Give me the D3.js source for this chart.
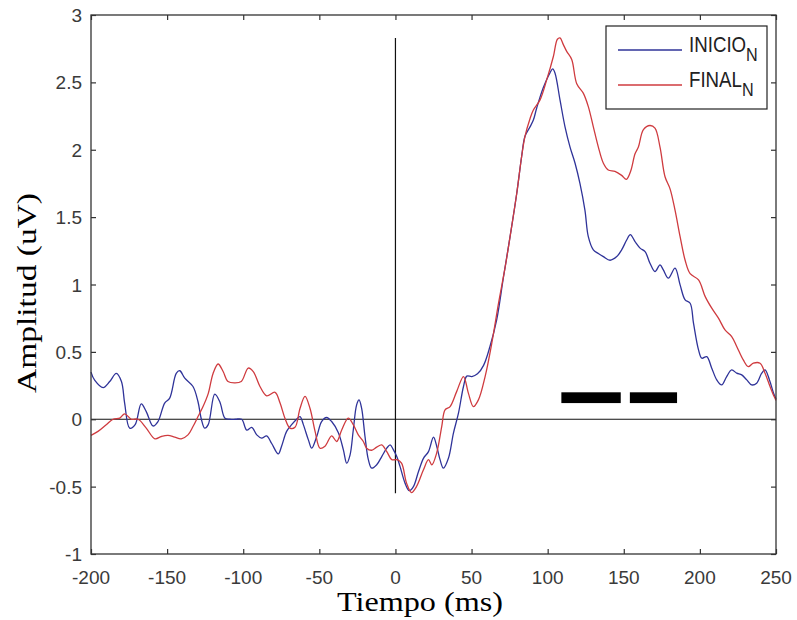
<!DOCTYPE html>
<html>
<head>
    <meta charset="utf-8">
    <script src="https://d3js.org/d3.v7.min.js"></script>
    <style>
        body {
            margin: 0;
            background: #fff;
        }

        .tick-label {
            font-family: "Liberation Sans", Arial, sans-serif;
            font-size: 19px;
            fill: #3a3a3a;
        }

        .axis-title {
            font-family: "Liberation Serif", "Times New Roman", serif;
            font-size: 28px;
            fill: #000;
        }

        .legend-text {
            font-family: "Liberation Sans", Arial, sans-serif;
            font-size: 22px;
            fill: #222;
        }
    </style>
</head>
<body>
    <script>
        // tiempo (ms) / amplitud (uV)
        const inicioT = [-200, -197.6, -192, -187.7, -183.4, -180, -177.9, -174.6, -171, -167, -163.7, -159.3, -156,
            -151.6, -148.3, -144, -141.7, -138.4, -133, -129.7, -127.5, -125.3, -123, -118.7, -115.4, -112, -108.9,
            -105, -101, -97.7, -94.4, -91.1, -87.9, -84.6, -81.3, -77, -74.8, -71.5, -68.2, -64.9, -62.7, -60.5,
            -57.2, -55, -51.7, -48.5, -45.2, -41.9, -37.5, -34.2, -32, -29.8, -27.7, -25.5, -23.9, -22.2, -20,
            -17.8, -15.6, -12.3, -9, -5.7, -3.5, -1.3, 1, 3, 6.3, 9.1, 11.8, 15.1, 18.4, 21.7, 25, 27.1, 29.3,
            31.5, 34.8, 38.1, 41.4, 44.7, 46.9, 50.2, 53.9, 57.9, 62.1, 66.5, 70.9, 75.3, 79.7, 82.9, 85.1, 88.4,
            90.6, 92.8, 97.1, 101.5, 103.3, 104.8, 108.1, 111.4, 114.7, 118, 121.2, 124.5, 126.7, 130, 133.3,
            136.6, 141, 145.4, 148.6, 151.9, 154.3, 157.4, 160.7, 164, 167.2, 170.5, 173.8, 176, 179.3, 183.7,
            187, 190.3, 193.6, 195.8, 199.1, 201.3, 204.5, 207.8, 211.1, 214.3, 217.6, 220.9, 224.2, 227.5,
            230.8, 234, 237.3, 240.6, 242.8, 245.7, 248.4, 250];
        const inicioV = [0.35, 0.29, 0.235, 0.28, 0.34, 0.28, 0.12, -0.066, -0.04, 0.114, 0.057, -0.05, -0.017,
            0.12, 0.157, 0.34, 0.36, 0.305, 0.243, 0.13, 0, -0.066, -0.04, 0.186, 0.13, 0.008, 0,
            0, 0, -0.08, -0.06, -0.116, -0.14, -0.123, -0.18, -0.257, -0.2, -0.09, -0.04, 0, 0.02, -0.04,
            -0.153, -0.215, -0.128, -0.017, 0.013, -0.017, -0.1, -0.227, -0.326, -0.264, -0.08, 0.107, 0.144, 0.08, -0.128,
            -0.3, -0.363, -0.338, -0.277, -0.215, -0.19, -0.227, -0.28, -0.35, -0.474, -0.53, -0.5, -0.39, -0.29, -0.24, -0.133, -0.2, -0.3,
            -0.363, -0.29, -0.103, 0.045, 0.243, 0.32, 0.317, 0.337, 0.4, 0.54, 0.737, 1.05, 1.355, 1.677, 1.95, 2.1, 2.17,
            2.22, 2.31, 2.46, 2.57, 2.6, 2.57, 2.37, 2.17, 2.02, 1.9, 1.75, 1.55, 1.355, 1.257, 1.23,
            1.207, 1.18, 1.207, 1.257, 1.33, 1.37, 1.318, 1.27, 1.244, 1.158, 1.096, 1.145, 1.108, 1.047, 1.121,
            0.997, 0.886, 0.861, 0.713, 0.515, 0.453, 0.465, 0.379, 0.292, 0.255, 0.317, 0.366, 0.342, 0.329,
            0.292, 0.255, 0.268, 0.342, 0.366, 0.292, 0.194, 0.15];

        const finalT = [-200, -195.4, -190, -185.5, -181.1, -177.9, -173.5, -169, -163.7, -158, -153.8, -149.4, -145,
            -140.7, -136.3, -133, -129.7, -126.4, -123, -119.8, -116.5, -113.2, -110, -105.6, -101.3, -96.7, -93.4,
            -89, -84.6, -79.1, -75.8, -72.6, -69.3, -66, -62.7, -59.4, -56.1, -52.8, -49.5, -46.3, -41.9, -38.6,
            -35.3, -31, -27.7, -24.4, -21.1, -18.9, -15.6, -12.3, -9, -5.7, -2.4, 1, 4, 7.3, 10.5, 13.8, 18.4,
            21.7, 23.9, 27.1, 30.4, 32.6, 35.9, 40.2, 44.7, 47.9, 51.2, 54.5, 58.9, 63.3, 67.7, 72.1, 75.3, 79.7,
            82.9, 85.1, 88.4, 90.6, 95, 99.4, 103.7, 106.4, 108.1, 110.3, 112.5, 115.8, 119.1, 123.4, 126.7, 130,
            133.3, 136.6, 139.8, 144.2, 148.6, 151.7, 154.5, 157.4, 159.6, 162.9, 167.2, 170.5, 173.8, 177.1,
            180.4, 183.7, 187, 190.3, 193.6, 199.1, 203.5, 207.8, 212.2, 216.5, 220.9, 224.2, 228.5, 231.8,
            235.1, 239.5, 242.8, 246.1, 248.7, 250];
        const finalV = [-0.12, -0.09, -0.04, 0, 0.008, 0.04, 0, 0, -0.066, -0.145, -0.128, -0.12, -0.133,
            -0.145, -0.116, -0.054, 0.02, 0.094, 0.19, 0.34, 0.41, 0.354, 0.28, 0.27, 0.28, 0.38, 0.354,
            0.243, 0.174, 0.2, 0.12, 0.008, -0.066, -0.06, 0.08, 0.17, 0.08, -0.09, -0.215, -0.2, -0.123, -0.165,
            -0.08, 0.008, -0.04, -0.116, -0.165, -0.215, -0.23, -0.207, -0.19, -0.24, -0.3, -0.3, -0.326, -0.474, -0.544, -0.5, -0.375,
            -0.3, -0.338, -0.25, -0.054, 0.07, 0.094, 0.205, 0.317, 0.194, 0.094, 0.144, 0.317, 0.565, 0.86, 1.13, 1.355, 1.677,
            1.95, 2.1, 2.23, 2.295, 2.37, 2.52, 2.69, 2.82, 2.83, 2.78, 2.73, 2.67, 2.49, 2.42, 2.32, 2.17,
            2.02, 1.9, 1.85, 1.84, 1.81, 1.78, 1.84, 1.97, 2.02, 2.15, 2.18, 2.16, 2.02, 1.8,
            1.71, 1.55, 1.355, 1.18, 1.08, 1.034, 0.91, 0.824, 0.75, 0.663, 0.614, 0.54, 0.44, 0.39,
            0.416, 0.416, 0.342, 0.243, 0.17, 0.14];

        const xTicks = [-200, -150, -100, -50, 0, 50, 100, 150, 200, 250];
        const yTicks = [-1, -0.5, 0, 0.5, 1, 1.5, 2, 2.5, 3];

        // significance windows (ms) and the band they sit in (uV)
        const sigWindows = [[109, 148], [154, 185]];
        const sigBand = [0.12, 0.2];

        // stimulus marker at t = 0
        const onsetRange = [-0.55, 2.83];

        const series = [
            { name: "INICIO", t: inicioT, v: inicioV, color: "#2f3399" },
            { name: "FINAL", t: finalT, v: finalV, color: "#cf3b3f" }
        ];

        const width = 797, height = 620;
        const margin = { top: 15, right: 21, bottom: 66, left: 91 };
        const squeeze = 0.85; // legend uses a narrow sans face

        const svg = d3.select("body").append("svg")
            .attr("width", width)
            .attr("height", height);

        const x = d3.scaleLinear().domain([-200, 250]).range([margin.left, width - margin.right]);
        const y = d3.scaleLinear().domain([-1, 3]).range([height - margin.bottom, margin.top]);

        // reference lines
        svg.append("line")
            .attr("x1", x(-200)).attr("x2", x(250))
            .attr("y1", y(0)).attr("y2", y(0))
            .attr("stroke", "#111").attr("stroke-width", 1.2);

        svg.append("line")
            .attr("x1", x(0)).attr("x2", x(0))
            .attr("y1", y(onsetRange[0])).attr("y2", y(onsetRange[1]))
            .attr("stroke", "#111").attr("stroke-width", 1.2);

        // curves
        const line = d3.line()
            .x(d => x(d[0]))
            .y(d => y(d[1]))
            .curve(d3.curveCatmullRom.alpha(0.5));

        svg.append("g")
            .selectAll("path")
            .data(series)
            .enter().append("path")
            .attr("d", s => line(d3.zip(s.t, s.v)))
            .attr("fill", "none")
            .attr("stroke", s => s.color)
            .attr("stroke-width", 1.3)
            .attr("stroke-linejoin", "round");

        // black bars
        svg.append("g")
            .selectAll("rect")
            .data(sigWindows)
            .enter().append("rect")
            .attr("x", d => x(d[0]))
            .attr("width", d => x(d[1]) - x(d[0]))
            .attr("y", y(sigBand[1]))
            .attr("height", y(sigBand[0]) - y(sigBand[1]))
            .attr("fill", "#000");

        // matlab style box with inward ticks
        const tickLen = 5;
        const axisColor = "#333";

        svg.append("rect")
            .attr("x", x(-200)).attr("y", y(3))
            .attr("width", x(250) - x(-200))
            .attr("height", y(-1) - y(3))
            .attr("fill", "none")
            .attr("stroke", axisColor)
            .attr("stroke-width", 1.3);

        const bottomAxis = d3.axisBottom(x).tickValues(xTicks).tickSize(-tickLen).tickFormat("");
        const topAxis = d3.axisTop(x).tickValues(xTicks).tickSize(-tickLen).tickFormat("");
        const leftAxis = d3.axisLeft(y).tickValues(yTicks).tickSize(-tickLen).tickFormat("");
        const rightAxis = d3.axisRight(y).tickValues(yTicks).tickSize(-tickLen).tickFormat("");

        [[bottomAxis, `translate(0,${y(-1)})`], [topAxis, `translate(0,${y(3)})`],
         [leftAxis, `translate(${x(-200)},0)`], [rightAxis, `translate(${x(250)},0)`]].forEach(([ax, tr]) => {
            const g = svg.append("g").attr("transform", tr).call(ax);
            g.select(".domain").remove();
            g.selectAll(".tick line").attr("stroke", axisColor).attr("stroke-width", 1.2);
        });

        // tick labels
        svg.append("g")
            .selectAll("text")
            .data(xTicks)
            .enter().append("text")
            .attr("class", "tick-label")
            .attr("x", d => x(d))
            .attr("y", y(-1) + 30)
            .attr("text-anchor", "middle")
            .text(d => d);

        svg.append("g")
            .selectAll("text")
            .data(yTicks)
            .enter().append("text")
            .attr("class", "tick-label")
            .attr("x", x(-200) - 9)
            .attr("y", d => y(d) + 7)
            .attr("text-anchor", "end")
            .text(d => d);

        // axis titles
        svg.append("text")
            .attr("class", "axis-title")
            .attr("x", 420)
            .attr("y", 611)
            .attr("text-anchor", "middle")
            .attr("textLength", 166)
            .attr("lengthAdjust", "spacingAndGlyphs")
            .text("Tiempo (ms)");

        svg.append("text")
            .attr("class", "axis-title")
            .attr("transform", "translate(36,293) rotate(-90)")
            .attr("text-anchor", "middle")
            .attr("textLength", 200)
            .attr("lengthAdjust", "spacingAndGlyphs")
            .text("Amplitud (uV)");

        // legend
        const legend = svg.append("g").attr("transform", "translate(606,26)");

        legend.append("rect")
            .attr("width", 161)
            .attr("height", 83)
            .attr("fill", "#fff")
            .attr("stroke", "#222")
            .attr("stroke-width", 1.2);

        const item = legend.selectAll("g.item")
            .data(series)
            .enter().append("g")
            .attr("class", "item")
            .attr("transform", (d, i) => `translate(0,${24 + i * 35})`);

        item.append("line")
            .attr("x1", 12).attr("x2", 76)
            .attr("stroke", d => d.color)
            .attr("stroke-width", 1.3);

        const label = item.append("text")
            .attr("class", "legend-text")
            .attr("transform", `translate(83,2) scale(${squeeze},1)`);
        label.append("tspan").text(d => d.name);
        label.append("tspan").attr("dy", 9).attr("font-size", 19).text("N");
    </script>
</body>
</html>
